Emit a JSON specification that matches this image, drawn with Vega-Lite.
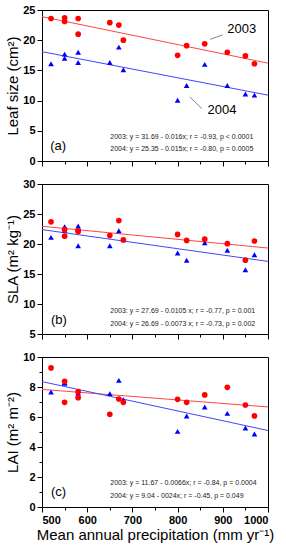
{
  "$schema": "https://vega.github.io/schema/vega-lite/v6.json",
  "padding": {"left": 5, "top": 3, "right": 5, "bottom": 5},
  "background": "white",
  "config": {
    "font": "Liberation Sans",
    "view": {"stroke": "black", "strokeWidth": 1},
    "axis": {"grid": false, "domainColor": "black", "tickColor": "black", "labelColor": "black", "labelFont": "Liberation Sans", "labelFontWeight": "bold", "labelFontSize": 11, "titleFont": "Liberation Sans", "titleFontWeight": "normal", "titleFontSize": 15, "titleColor": "black", "labelPadding": 2, "titlePadding": 2}
  },
  "datasets": {
    "pts": [
      {"panel": "a", "year": "2004", "x": 520, "y": 16.1}, {"panel": "a", "year": "2004", "x": 550, "y": 17.7}, {"panel": "a", "year": "2004", "x": 550, "y": 17.0}, {"panel": "a", "year": "2004", "x": 580, "y": 18.0}, {"panel": "a", "year": "2004", "x": 580, "y": 16.3}, {"panel": "a", "year": "2004", "x": 650, "y": 16.3}, {"panel": "a", "year": "2004", "x": 670, "y": 18.85}, {"panel": "a", "year": "2004", "x": 680, "y": 15.1}, {"panel": "a", "year": "2004", "x": 800, "y": 10.05}, {"panel": "a", "year": "2004", "x": 820, "y": 12.5}, {"panel": "a", "year": "2004", "x": 860, "y": 16.0}, {"panel": "a", "year": "2004", "x": 910, "y": 12.5}, {"panel": "a", "year": "2004", "x": 950, "y": 11.1}, {"panel": "a", "year": "2004", "x": 970, "y": 10.9},
      {"panel": "a", "year": "2003", "x": 520, "y": 23.6}, {"panel": "a", "year": "2003", "x": 550, "y": 23.7}, {"panel": "a", "year": "2003", "x": 550, "y": 23.1}, {"panel": "a", "year": "2003", "x": 580, "y": 23.6}, {"panel": "a", "year": "2003", "x": 580, "y": 21.0}, {"panel": "a", "year": "2003", "x": 650, "y": 22.9}, {"panel": "a", "year": "2003", "x": 670, "y": 22.5}, {"panel": "a", "year": "2003", "x": 680, "y": 20.0}, {"panel": "a", "year": "2003", "x": 800, "y": 17.5}, {"panel": "a", "year": "2003", "x": 820, "y": 19.1}, {"panel": "a", "year": "2003", "x": 860, "y": 19.4}, {"panel": "a", "year": "2003", "x": 910, "y": 18.0}, {"panel": "a", "year": "2003", "x": 950, "y": 17.4}, {"panel": "a", "year": "2003", "x": 970, "y": 16.1},
      {"panel": "b", "year": "2004", "x": 520, "y": 21.1}, {"panel": "b", "year": "2004", "x": 550, "y": 22.9}, {"panel": "b", "year": "2004", "x": 550, "y": 22.3}, {"panel": "b", "year": "2004", "x": 580, "y": 23.0}, {"panel": "b", "year": "2004", "x": 580, "y": 19.7}, {"panel": "b", "year": "2004", "x": 650, "y": 19.7}, {"panel": "b", "year": "2004", "x": 670, "y": 22.2}, {"panel": "b", "year": "2004", "x": 680, "y": 20.7}, {"panel": "b", "year": "2004", "x": 800, "y": 18.5}, {"panel": "b", "year": "2004", "x": 820, "y": 17.3}, {"panel": "b", "year": "2004", "x": 860, "y": 20.2}, {"panel": "b", "year": "2004", "x": 910, "y": 18.95}, {"panel": "b", "year": "2004", "x": 950, "y": 15.7}, {"panel": "b", "year": "2004", "x": 970, "y": 18.2},
      {"panel": "b", "year": "2003", "x": 520, "y": 23.7}, {"panel": "b", "year": "2003", "x": 550, "y": 22.4}, {"panel": "b", "year": "2003", "x": 550, "y": 21.3}, {"panel": "b", "year": "2003", "x": 580, "y": 22.2}, {"panel": "b", "year": "2003", "x": 580, "y": 22.1}, {"panel": "b", "year": "2003", "x": 650, "y": 21.4}, {"panel": "b", "year": "2003", "x": 670, "y": 23.9}, {"panel": "b", "year": "2003", "x": 680, "y": 20.7}, {"panel": "b", "year": "2003", "x": 800, "y": 21.6}, {"panel": "b", "year": "2003", "x": 820, "y": 20.6}, {"panel": "b", "year": "2003", "x": 860, "y": 20.8}, {"panel": "b", "year": "2003", "x": 910, "y": 20.05}, {"panel": "b", "year": "2003", "x": 950, "y": 17.3}, {"panel": "b", "year": "2003", "x": 970, "y": 20.5},
      {"panel": "c", "year": "2004", "x": 520, "y": 7.67}, {"panel": "c", "year": "2004", "x": 550, "y": 8.24}, {"panel": "c", "year": "2004", "x": 550, "y": 8.3}, {"panel": "c", "year": "2004", "x": 580, "y": 7.6}, {"panel": "c", "year": "2004", "x": 580, "y": 7.4}, {"panel": "c", "year": "2004", "x": 650, "y": 7.56}, {"panel": "c", "year": "2004", "x": 670, "y": 8.44}, {"panel": "c", "year": "2004", "x": 680, "y": 7.16}, {"panel": "c", "year": "2004", "x": 800, "y": 5.04}, {"panel": "c", "year": "2004", "x": 820, "y": 6.07}, {"panel": "c", "year": "2004", "x": 860, "y": 6.67}, {"panel": "c", "year": "2004", "x": 910, "y": 6.24}, {"panel": "c", "year": "2004", "x": 950, "y": 5.27}, {"panel": "c", "year": "2004", "x": 970, "y": 4.87},
      {"panel": "c", "year": "2003", "x": 520, "y": 9.27}, {"panel": "c", "year": "2003", "x": 550, "y": 8.38}, {"panel": "c", "year": "2003", "x": 550, "y": 6.98}, {"panel": "c", "year": "2003", "x": 580, "y": 7.69}, {"panel": "c", "year": "2003", "x": 580, "y": 7.29}, {"panel": "c", "year": "2003", "x": 650, "y": 6.18}, {"panel": "c", "year": "2003", "x": 670, "y": 7.2}, {"panel": "c", "year": "2003", "x": 680, "y": 6.98}, {"panel": "c", "year": "2003", "x": 800, "y": 7.18}, {"panel": "c", "year": "2003", "x": 820, "y": 6.98}, {"panel": "c", "year": "2003", "x": 860, "y": 7.47}, {"panel": "c", "year": "2003", "x": 910, "y": 7.98}, {"panel": "c", "year": "2003", "x": 950, "y": 6.8}, {"panel": "c", "year": "2003", "x": 970, "y": 6.07}
    ],
    "fits": [
      {"panel": "a", "year": "2003", "x": 500, "y": 23.9}, {"panel": "a", "year": "2003", "x": 1000, "y": 16.2},
      {"panel": "a", "year": "2004", "x": 500, "y": 18.1}, {"panel": "a", "year": "2004", "x": 1000, "y": 10.9},
      {"panel": "b", "year": "2003", "x": 500, "y": 22.95}, {"panel": "b", "year": "2003", "x": 1000, "y": 19.33},
      {"panel": "b", "year": "2004", "x": 500, "y": 22.4}, {"panel": "b", "year": "2004", "x": 1000, "y": 17.1},
      {"panel": "c", "year": "2003", "x": 500, "y": 7.84}, {"panel": "c", "year": "2003", "x": 1000, "y": 6.67},
      {"panel": "c", "year": "2004", "x": 500, "y": 8.36}, {"panel": "c", "year": "2004", "x": 1000, "y": 5.1}
    ],
    "eqs": [
      {"panel": "a", "x": 651, "y": 3.97, "label": "2003: y = 31.69 - 0.016x; r = -0.93, p < 0.0001"},
      {"panel": "a", "x": 651, "y": 1.99, "label": "2004: y = 25.35 - 0.015x; r = -0.80, p = 0.0005"},
      {"panel": "b", "x": 651, "y": 8.88, "label": "2003: y = 27.69 - 0.0105 x; r = -0.77, p = 0.001"},
      {"panel": "b", "x": 651, "y": 6.72, "label": "2004: y = 26.69 - 0.0073 x; r = -0.73, p = 0.002"},
      {"panel": "c", "x": 651, "y": 1.57, "label": "2003: y = 11.67 - 0.0066x; r = -0.84, p = 0.0004"},
      {"panel": "c", "x": 651, "y": 0.73, "label": "2004: y = 9.04 - 0024x; r = -0.45, p = 0.049"}
    ],
    "tags": [
      {"panel": "a", "x": 518, "y": 2.48, "label": "(a)"},
      {"panel": "b", "x": 520, "y": 7.38, "label": "(b)"},
      {"panel": "c", "x": 520, "y": 1.0, "label": "(c)"}
    ]
  },
  "vconcat": [
    {
      "width": 226, "height": 151,
      "resolve": {"axis": {"x": "independent", "y": "independent"}},
      "layer": [
        {
          "data": {"name": "fits"},
          "transform": [{"filter": "datum.panel === 'a'"}],
          "mark": {"type": "line", "strokeWidth": 1},
          "encoding": {
            "x": {"field": "x", "type": "quantitative", "scale": {"domain": [500, 1000], "nice": false, "zero": false}, "axis": {"orient": "bottom", "values": [550, 650, 750, 850, 950], "labels": false, "domain": false, "tickSize": 3, "title": null}},
            "y": {"field": "y", "type": "quantitative", "scale": {"domain": [0, 25], "nice": false}, "axis": null},
            "stroke": {"field": "year", "type": "nominal", "scale": {"domain": ["2003", "2004"], "range": ["#ff4545", "#4545ff"]}, "legend": null}
          }
        },
        {
          "data": {"name": "pts"},
          "transform": [{"filter": "datum.panel === 'a'"}],
          "mark": {"type": "point", "filled": true, "opacity": 1},
          "encoding": {
            "x": {"field": "x", "type": "quantitative", "axis": {"orient": "bottom", "values": [500, 600, 700, 800, 900, 1000], "labels": false, "tickSize": 5, "title": null}},
            "y": {"field": "y", "type": "quantitative", "axis": {"orient": "left", "values": [0, 5, 10, 15, 20, 25], "tickSize": 5, "title": "Leaf size (cm²)"}},
            "color": {"field": "year", "type": "nominal", "scale": {"domain": ["2003", "2004"], "range": ["#ff0000", "#0000ff"]}, "legend": null},
            "shape": {"field": "year", "type": "nominal", "scale": {"domain": ["2003", "2004"], "range": ["circle", "triangle-up"]}, "legend": null},
            "size": {"value": 32}
          }
        },
        {
          "data": {"values": [{"x": 872, "y": 20.15, "x2": 900, "y2": 20.9}, {"x": 827, "y": 10.6, "x2": 854, "y2": 8.66}]},
          "mark": {"type": "rule", "color": "#888888", "strokeWidth": 1},
          "encoding": {
            "x": {"field": "x", "type": "quantitative", "axis": null},
            "y": {"field": "y", "type": "quantitative", "axis": null},
            "x2": {"field": "x2"},
            "y2": {"field": "y2"}
          }
        },
        {
          "data": {"values": [{"x": 942, "y": 21.9, "label": "2003"}, {"x": 898, "y": 8.44, "label": "2004"}]},
          "mark": {"type": "text", "fontSize": 13, "align": "center", "baseline": "middle", "color": "black"},
          "encoding": {
            "x": {"field": "x", "type": "quantitative", "axis": null},
            "y": {"field": "y", "type": "quantitative", "axis": null},
            "text": {"field": "label"}
          }
        },
        {
          "data": {"name": "eqs"},
          "transform": [{"filter": "datum.panel === 'a'"}],
          "mark": {"type": "text", "fontSize": 7, "align": "left", "baseline": "middle", "color": "#222222"},
          "encoding": {
            "x": {"field": "x", "type": "quantitative", "axis": null},
            "y": {"field": "y", "type": "quantitative", "axis": null},
            "text": {"field": "label"}
          }
        },
        {
          "data": {"name": "tags"},
          "transform": [{"filter": "datum.panel === 'a'"}],
          "mark": {"type": "text", "fontSize": 13, "align": "left", "baseline": "middle", "color": "black"},
          "encoding": {
            "x": {"field": "x", "type": "quantitative", "axis": null},
            "y": {"field": "y", "type": "quantitative", "axis": null},
            "text": {"field": "label"}
          }
        }
      ]
    },
    {
      "width": 226, "height": 150,
      "resolve": {"axis": {"x": "independent", "y": "independent"}},
      "layer": [
        {
          "data": {"name": "fits"},
          "transform": [{"filter": "datum.panel === 'b'"}],
          "mark": {"type": "line", "strokeWidth": 1},
          "encoding": {
            "x": {"field": "x", "type": "quantitative", "scale": {"domain": [500, 1000], "nice": false, "zero": false}, "axis": {"orient": "bottom", "values": [550, 650, 750, 850, 950], "labels": false, "domain": false, "tickSize": 3, "title": null}},
            "y": {"field": "y", "type": "quantitative", "scale": {"domain": [5, 30], "nice": false, "zero": false}, "axis": null},
            "stroke": {"field": "year", "type": "nominal", "scale": {"domain": ["2003", "2004"], "range": ["#ff4545", "#4545ff"]}, "legend": null}
          }
        },
        {
          "data": {"name": "pts"},
          "transform": [{"filter": "datum.panel === 'b'"}],
          "mark": {"type": "point", "filled": true, "opacity": 1},
          "encoding": {
            "x": {"field": "x", "type": "quantitative", "axis": {"orient": "bottom", "values": [500, 600, 700, 800, 900, 1000], "labels": false, "tickSize": 5, "title": null}},
            "y": {"field": "y", "type": "quantitative", "axis": {"orient": "left", "values": [5, 10, 15, 20, 25, 30], "tickSize": 5, "title": "SLA (m² kg⁻¹)"}},
            "color": {"field": "year", "type": "nominal", "scale": {"domain": ["2003", "2004"], "range": ["#ff0000", "#0000ff"]}, "legend": null},
            "shape": {"field": "year", "type": "nominal", "scale": {"domain": ["2003", "2004"], "range": ["circle", "triangle-up"]}, "legend": null},
            "size": {"value": 32}
          }
        },
        {
          "data": {"name": "eqs"},
          "transform": [{"filter": "datum.panel === 'b'"}],
          "mark": {"type": "text", "fontSize": 7, "align": "left", "baseline": "middle", "color": "#222222"},
          "encoding": {
            "x": {"field": "x", "type": "quantitative", "axis": null},
            "y": {"field": "y", "type": "quantitative", "axis": null},
            "text": {"field": "label"}
          }
        },
        {
          "data": {"name": "tags"},
          "transform": [{"filter": "datum.panel === 'b'"}],
          "mark": {"type": "text", "fontSize": 13, "align": "left", "baseline": "middle", "color": "black"},
          "encoding": {
            "x": {"field": "x", "type": "quantitative", "axis": null},
            "y": {"field": "y", "type": "quantitative", "axis": null},
            "text": {"field": "label"}
          }
        }
      ]
    },
    {
      "width": 226, "height": 150,
      "resolve": {"axis": {"x": "independent", "y": "independent"}},
      "layer": [
        {
          "data": {"name": "fits"},
          "transform": [{"filter": "datum.panel === 'c'"}],
          "mark": {"type": "line", "strokeWidth": 1},
          "encoding": {
            "x": {"field": "x", "type": "quantitative", "scale": {"domain": [500, 1000], "nice": false, "zero": false}, "axis": {"orient": "bottom", "values": [550, 650, 750, 850, 950], "labels": false, "domain": false, "tickSize": 3, "title": null}},
            "y": {"field": "y", "type": "quantitative", "scale": {"domain": [0, 10], "nice": false}, "axis": {"orient": "left", "values": [1, 3, 5, 7, 9], "labels": false, "domain": false, "tickSize": 3, "title": null}},
            "stroke": {"field": "year", "type": "nominal", "scale": {"domain": ["2003", "2004"], "range": ["#ff4545", "#4545ff"]}, "legend": null}
          }
        },
        {
          "data": {"name": "pts"},
          "transform": [{"filter": "datum.panel === 'c'"}],
          "mark": {"type": "point", "filled": true, "opacity": 1},
          "encoding": {
            "x": {"field": "x", "type": "quantitative", "axis": {"orient": "bottom", "values": [500, 600, 700, 800, 900, 1000], "format": "d", "tickSize": 5, "title": "Mean annual precipitation (mm yr⁻¹)", "titlePadding": 2}},
            "y": {"field": "y", "type": "quantitative", "axis": {"orient": "left", "values": [0, 2, 4, 6, 8, 10], "tickSize": 5, "title": "LAI (m² m⁻²)"}},
            "color": {"field": "year", "type": "nominal", "scale": {"domain": ["2003", "2004"], "range": ["#ff0000", "#0000ff"]}, "legend": null},
            "shape": {"field": "year", "type": "nominal", "scale": {"domain": ["2003", "2004"], "range": ["circle", "triangle-up"]}, "legend": null},
            "size": {"value": 32}
          }
        },
        {
          "data": {"name": "eqs"},
          "transform": [{"filter": "datum.panel === 'c'"}],
          "mark": {"type": "text", "fontSize": 7, "align": "left", "baseline": "middle", "color": "#222222"},
          "encoding": {
            "x": {"field": "x", "type": "quantitative", "axis": null},
            "y": {"field": "y", "type": "quantitative", "axis": null},
            "text": {"field": "label"}
          }
        },
        {
          "data": {"name": "tags"},
          "transform": [{"filter": "datum.panel === 'c'"}],
          "mark": {"type": "text", "fontSize": 13, "align": "left", "baseline": "middle", "color": "black"},
          "encoding": {
            "x": {"field": "x", "type": "quantitative", "axis": null},
            "y": {"field": "y", "type": "quantitative", "axis": null},
            "text": {"field": "label"}
          }
        }
      ]
    }
  ],
  "spacing": 10
}
